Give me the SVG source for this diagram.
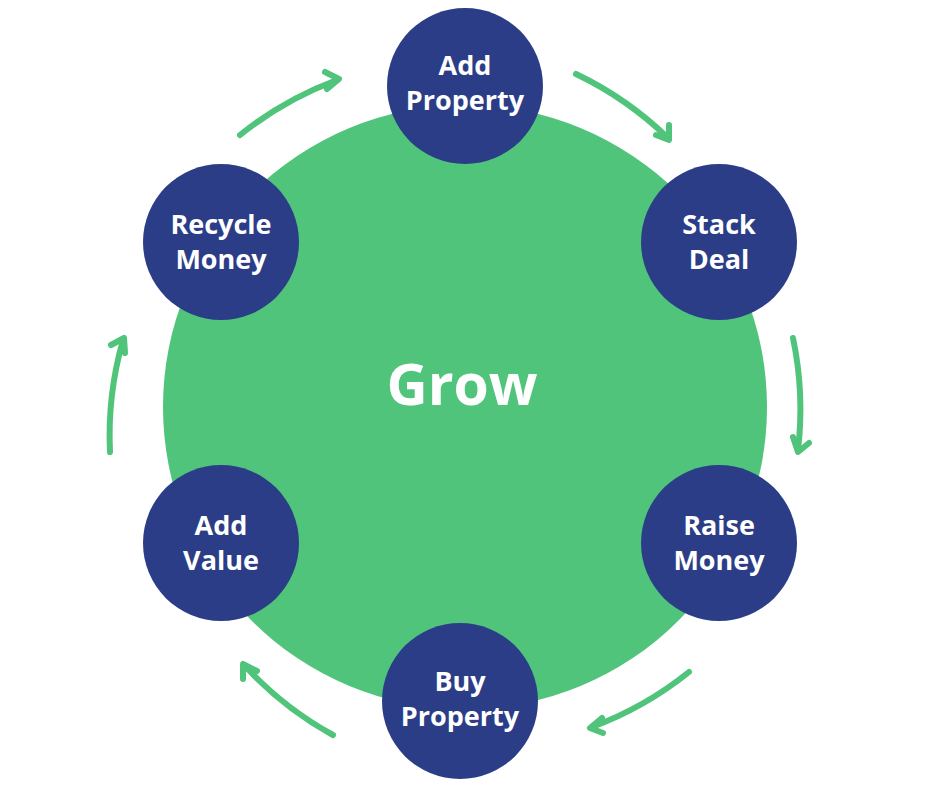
<svg xmlns="http://www.w3.org/2000/svg" width="940" height="788" viewBox="0 0 940 788">
<style>
.node{fill:#2B3D87}
.lbl{fill:#fff;font-family:"Open Sans","Liberation Sans",sans-serif;font-weight:700;font-size:27px;text-anchor:middle}
.title{fill:#fff;font-family:"Open Sans","Liberation Sans",sans-serif;font-weight:700;font-size:57px;text-anchor:middle}
.arr{fill:none;stroke:#4FC47A;stroke-width:6;stroke-linecap:round;stroke-linejoin:round}
</style>
<rect width="940" height="788" fill="#fff"/>
<g id="hub">
<circle cx="465" cy="407" r="302" fill="#4FC47A"/>
<text class="title" x="462" y="405">Grow</text>
</g>
<g id="connectors">
<path class="arr" d="M576 74 A347 347 0 0 1 668 138"/>
<path class="arr" d="M656 135 L669 140 L669 125"/>
<path class="arr" d="M793 338 A347 347 0 0 1 798 450"/>
<path class="arr" d="M793 437 L798 452 L809 443"/>
<path class="arr" d="M689 672 A347 347 0 0 1 592 727"/>
<path class="arr" d="M602 718 L590 728 L603 733"/>
<path class="arr" d="M333 735 A347 347 0 0 1 245 666"/>
<path class="arr" d="M257 671 L243 664 L243 679"/>
<path class="arr" d="M110 452 A347 347 0 0 1 123 340"/>
<path class="arr" d="M111 345 L124 338 L125 353"/>
<path class="arr" d="M240 135 A347 347 0 0 1 337 80"/>
<path class="arr" d="M325 72 L339 79 L327 89"/>
</g>
<g id="add-property">
<circle class="node" cx="465" cy="86" r="78"/>
<text class="lbl" x="465" y="75">Add</text>
<text class="lbl" x="465" y="110">Property</text>
</g>
<g id="stack-deal">
<circle class="node" cx="719" cy="242" r="78"/>
<text class="lbl" x="719" y="234">Stack</text>
<text class="lbl" x="719" y="269">Deal</text>
</g>
<g id="raise-money">
<circle class="node" cx="719" cy="543" r="78"/>
<text class="lbl" x="719" y="535">Raise</text>
<text class="lbl" x="719" y="570">Money</text>
</g>
<g id="buy-property">
<circle class="node" cx="460" cy="701" r="78"/>
<text class="lbl" x="460" y="691">Buy</text>
<text class="lbl" x="460" y="726">Property</text>
</g>
<g id="add-value">
<circle class="node" cx="221" cy="543" r="78"/>
<text class="lbl" x="221" y="535">Add</text>
<text class="lbl" x="221" y="570">Value</text>
</g>
<g id="recycle-money">
<circle class="node" cx="221" cy="242" r="78"/>
<text class="lbl" x="221" y="234">Recycle</text>
<text class="lbl" x="221" y="269">Money</text>
</g>
</svg>
